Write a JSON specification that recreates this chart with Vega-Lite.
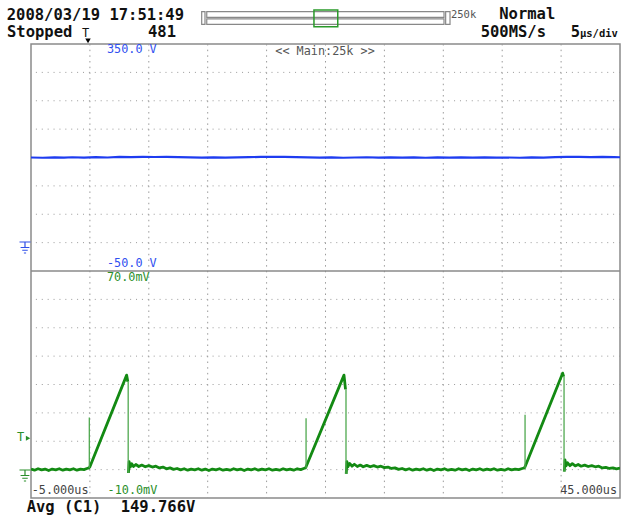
{
  "$schema": "https://vega.github.io/schema/vega-lite/v6.json",
  "width": 589,
  "height": 454,
  "autosize": {"type": "none"},
  "padding": {"left": 31, "top": 44, "right": 1, "bottom": 23},
  "background": "white",
  "config": {
    "view": {"stroke": "#8a8a8a", "strokeWidth": 1.5},
    "text": {"font": "DejaVu Sans Mono"}
  },
  "datasets": {
    "vgrid": [{"t": 0}, {"t": 5}, {"t": 10}, {"t": 15}, {"t": 20}, {"t": 25}, {"t": 30}, {"t": 35}, {"t": 40}],
    "hgrid": [{"v": -400}, {"v": -350}, {"v": -300}, {"v": -250}, {"v": -200}, {"v": -150}, {"v": -100}, {"v": 0}, {"v": 50}, {"v": 100}, {"v": 150}, {"v": 200}, {"v": 250}, {"v": 300}],
    "divider": [{"v": -50}],
    "blue": [
      {"t": -5, "v": 150}, {"t": -4, "v": 149.6}, {"t": -3, "v": 150.3}, {"t": -2.2, "v": 149.7}, {"t": -1.5, "v": 150.4},
      {"t": -0.5, "v": 149.8}, {"t": 0.5, "v": 150.5}, {"t": 1.5, "v": 150.0}, {"t": 2.5, "v": 151.0}, {"t": 3.5, "v": 150.8},
      {"t": 4.5, "v": 151.2}, {"t": 5.5, "v": 150.9}, {"t": 6.5, "v": 151.1}, {"t": 7.5, "v": 150.6}, {"t": 8.5, "v": 150.2},
      {"t": 9.5, "v": 149.7}, {"t": 10.5, "v": 150.3}, {"t": 11.5, "v": 149.8}, {"t": 12.5, "v": 150.2}, {"t": 13.5, "v": 150.6},
      {"t": 14.5, "v": 151.0}, {"t": 15.5, "v": 151.3}, {"t": 16.5, "v": 151.1}, {"t": 17.5, "v": 150.6}, {"t": 18.5, "v": 150.3},
      {"t": 19.5, "v": 149.8}, {"t": 20.5, "v": 150.1}, {"t": 21.5, "v": 149.6}, {"t": 22.5, "v": 150.0}, {"t": 23.5, "v": 150.4},
      {"t": 24.5, "v": 149.9}, {"t": 25.5, "v": 150.3}, {"t": 26.5, "v": 149.7}, {"t": 27.5, "v": 150.2}, {"t": 28.5, "v": 149.6},
      {"t": 29.5, "v": 150.1}, {"t": 30.5, "v": 149.7}, {"t": 31.5, "v": 150.2}, {"t": 32.5, "v": 149.8}, {"t": 33.5, "v": 150.3},
      {"t": 34.5, "v": 149.7}, {"t": 35.5, "v": 150.0}, {"t": 36.5, "v": 149.6}, {"t": 37.5, "v": 150.3}, {"t": 38.5, "v": 149.9},
      {"t": 39.5, "v": 150.6}, {"t": 40.5, "v": 151.0}, {"t": 41.5, "v": 151.2}, {"t": 42.5, "v": 150.8}, {"t": 43.5, "v": 151.1},
      {"t": 44.5, "v": 150.7}, {"t": 45, "v": 150.4}
    ],
    "green": [
      {"seg": 1, "t": -5.0, "mv": 0.2}, {"seg": 1, "t": -4.7, "mv": -0.2}, {"seg": 1, "t": -4.4, "mv": 0.3}, {"seg": 1, "t": -4.1, "mv": -0.1},
      {"seg": 1, "t": -3.8, "mv": 0.2}, {"seg": 1, "t": -3.5, "mv": -0.3}, {"seg": 1, "t": -3.2, "mv": 0.2}, {"seg": 1, "t": -2.9, "mv": -0.1},
      {"seg": 1, "t": -2.6, "mv": 0.3}, {"seg": 1, "t": -2.3, "mv": -0.2}, {"seg": 1, "t": -2.0, "mv": 0.2}, {"seg": 1, "t": -1.7, "mv": -0.1},
      {"seg": 1, "t": -1.4, "mv": 0.3}, {"seg": 1, "t": -1.1, "mv": -0.2}, {"seg": 1, "t": -0.8, "mv": 0.2}, {"seg": 1, "t": -0.5, "mv": 0.0},
      {"seg": 1, "t": -0.25, "mv": 0.4}, {"seg": 1, "t": -0.08, "mv": 0.6}, {"seg": 1, "t": 0.0, "mv": 1.0}, {"seg": 1, "t": 3.12, "mv": 33.3},
      {"seg": 1, "t": 3.22, "mv": 31.0},
      {"seg": 2, "t": 3.27, "mv": -1.2}, {"seg": 2, "t": 3.33, "mv": 2.8}, {"seg": 2, "t": 3.42, "mv": 0.9}, {"seg": 2, "t": 3.55, "mv": 2.1},
      {"seg": 2, "t": 3.7, "mv": 1.1}, {"seg": 2, "t": 3.9, "mv": 1.8}, {"seg": 2, "t": 4.15, "mv": 1.1}, {"seg": 2, "t": 4.4, "mv": 1.6},
      {"seg": 2, "t": 4.7, "mv": 1.0}, {"seg": 2, "t": 5.0, "mv": 1.4}, {"seg": 2, "t": 5.3, "mv": 0.9}, {"seg": 2, "t": 5.6, "mv": 1.2},
      {"seg": 2, "t": 5.9, "mv": 0.6}, {"seg": 2, "t": 6.2, "mv": 0.9}, {"seg": 2, "t": 6.5, "mv": 0.3}, {"seg": 2, "t": 6.8, "mv": 0.6},
      {"seg": 2, "t": 7.1, "mv": 0.1}, {"seg": 2, "t": 7.4, "mv": 0.4}, {"seg": 2, "t": 7.7, "mv": -0.1}, {"seg": 2, "t": 8.0, "mv": 0.3},
      {"seg": 2, "t": 8.3, "mv": -0.2}, {"seg": 2, "t": 8.6, "mv": 0.2}, {"seg": 2, "t": 8.9, "mv": -0.1}, {"seg": 2, "t": 9.2, "mv": 0.3},
      {"seg": 2, "t": 9.5, "mv": -0.2}, {"seg": 2, "t": 9.8, "mv": 0.2}, {"seg": 2, "t": 10.1, "mv": -0.3}, {"seg": 2, "t": 10.4, "mv": 0.2},
      {"seg": 2, "t": 10.7, "mv": -0.1}, {"seg": 2, "t": 11.0, "mv": 0.3}, {"seg": 2, "t": 11.3, "mv": -0.2}, {"seg": 2, "t": 11.6, "mv": 0.1},
      {"seg": 2, "t": 11.9, "mv": -0.2}, {"seg": 2, "t": 12.2, "mv": 0.3}, {"seg": 2, "t": 12.5, "mv": -0.1}, {"seg": 2, "t": 12.8, "mv": 0.2},
      {"seg": 2, "t": 13.1, "mv": -0.3}, {"seg": 2, "t": 13.4, "mv": 0.2}, {"seg": 2, "t": 13.7, "mv": -0.1}, {"seg": 2, "t": 14.0, "mv": 0.3},
      {"seg": 2, "t": 14.3, "mv": -0.2}, {"seg": 2, "t": 14.6, "mv": 0.2}, {"seg": 2, "t": 14.9, "mv": -0.1}, {"seg": 2, "t": 15.2, "mv": 0.3},
      {"seg": 2, "t": 15.5, "mv": -0.2}, {"seg": 2, "t": 15.8, "mv": 0.1}, {"seg": 2, "t": 16.1, "mv": -0.2}, {"seg": 2, "t": 16.4, "mv": 0.3},
      {"seg": 2, "t": 16.7, "mv": -0.1}, {"seg": 2, "t": 17.0, "mv": 0.2}, {"seg": 2, "t": 17.3, "mv": -0.2}, {"seg": 2, "t": 17.6, "mv": 0.3},
      {"seg": 2, "t": 17.9, "mv": 0.0}, {"seg": 2, "t": 18.15, "mv": 0.4}, {"seg": 2, "t": 18.3, "mv": 0.6}, {"seg": 2, "t": 18.35, "mv": 1.0},
      {"seg": 2, "t": 21.57, "mv": 33.3}, {"seg": 2, "t": 21.7, "mv": 28.3},
      {"seg": 3, "t": 21.76, "mv": -1.5}, {"seg": 3, "t": 21.82, "mv": 2.8}, {"seg": 3, "t": 21.9, "mv": 1.0}, {"seg": 3, "t": 22.05, "mv": 2.2},
      {"seg": 3, "t": 22.25, "mv": 1.2}, {"seg": 3, "t": 22.45, "mv": 1.9}, {"seg": 3, "t": 22.7, "mv": 1.1}, {"seg": 3, "t": 22.95, "mv": 1.6},
      {"seg": 3, "t": 23.2, "mv": 1.0}, {"seg": 3, "t": 23.5, "mv": 1.5}, {"seg": 3, "t": 23.8, "mv": 1.0}, {"seg": 3, "t": 24.1, "mv": 1.4},
      {"seg": 3, "t": 24.4, "mv": 0.9}, {"seg": 3, "t": 24.7, "mv": 1.2}, {"seg": 3, "t": 25.0, "mv": 0.7}, {"seg": 3, "t": 25.3, "mv": 0.9},
      {"seg": 3, "t": 25.6, "mv": 0.4}, {"seg": 3, "t": 25.9, "mv": 0.6}, {"seg": 3, "t": 26.2, "mv": 0.1}, {"seg": 3, "t": 26.5, "mv": 0.4},
      {"seg": 3, "t": 26.8, "mv": -0.1}, {"seg": 3, "t": 27.1, "mv": 0.3}, {"seg": 3, "t": 27.4, "mv": -0.2}, {"seg": 3, "t": 27.7, "mv": 0.2},
      {"seg": 3, "t": 28.0, "mv": -0.1}, {"seg": 3, "t": 28.3, "mv": 0.3}, {"seg": 3, "t": 28.6, "mv": -0.2}, {"seg": 3, "t": 28.9, "mv": 0.2},
      {"seg": 3, "t": 29.2, "mv": -0.3}, {"seg": 3, "t": 29.5, "mv": 0.2}, {"seg": 3, "t": 29.8, "mv": -0.1}, {"seg": 3, "t": 30.1, "mv": 0.3},
      {"seg": 3, "t": 30.4, "mv": -0.2}, {"seg": 3, "t": 30.7, "mv": 0.1}, {"seg": 3, "t": 31.0, "mv": -0.2}, {"seg": 3, "t": 31.3, "mv": 0.3},
      {"seg": 3, "t": 31.6, "mv": -0.1}, {"seg": 3, "t": 31.9, "mv": 0.2}, {"seg": 3, "t": 32.2, "mv": -0.3}, {"seg": 3, "t": 32.5, "mv": 0.2},
      {"seg": 3, "t": 32.8, "mv": -0.1}, {"seg": 3, "t": 33.1, "mv": 0.3}, {"seg": 3, "t": 33.4, "mv": -0.2}, {"seg": 3, "t": 33.7, "mv": 0.2},
      {"seg": 3, "t": 34.0, "mv": -0.1}, {"seg": 3, "t": 34.3, "mv": 0.3}, {"seg": 3, "t": 34.6, "mv": -0.2}, {"seg": 3, "t": 34.9, "mv": 0.1},
      {"seg": 3, "t": 35.2, "mv": -0.2}, {"seg": 3, "t": 35.5, "mv": 0.3}, {"seg": 3, "t": 35.8, "mv": -0.1}, {"seg": 3, "t": 36.1, "mv": 0.2},
      {"seg": 3, "t": 36.4, "mv": 0.0}, {"seg": 3, "t": 36.7, "mv": 0.4}, {"seg": 3, "t": 36.88, "mv": 0.6}, {"seg": 3, "t": 36.94, "mv": 1.0},
      {"seg": 3, "t": 40.13, "mv": 34.0}, {"seg": 3, "t": 40.22, "mv": 32.8},
      {"seg": 4, "t": 40.27, "mv": -0.7}, {"seg": 4, "t": 40.33, "mv": 3.4}, {"seg": 4, "t": 40.42, "mv": 1.3}, {"seg": 4, "t": 40.55, "mv": 2.4},
      {"seg": 4, "t": 40.75, "mv": 1.4}, {"seg": 4, "t": 40.95, "mv": 2.1}, {"seg": 4, "t": 41.2, "mv": 1.3}, {"seg": 4, "t": 41.45, "mv": 1.8},
      {"seg": 4, "t": 41.7, "mv": 1.2}, {"seg": 4, "t": 42.0, "mv": 1.6}, {"seg": 4, "t": 42.3, "mv": 1.1}, {"seg": 4, "t": 42.6, "mv": 1.4},
      {"seg": 4, "t": 42.9, "mv": 1.0}, {"seg": 4, "t": 43.2, "mv": 1.2}, {"seg": 4, "t": 43.5, "mv": 0.6}, {"seg": 4, "t": 43.8, "mv": 0.8},
      {"seg": 4, "t": 44.1, "mv": 0.4}, {"seg": 4, "t": 44.4, "mv": 0.6}, {"seg": 4, "t": 44.7, "mv": 0.3}, {"seg": 4, "t": 45.0, "mv": 0.5}
    ],
    "edges": [
      {"t": -0.05, "lo": 0.5, "hi": 18.4},
      {"t": 3.25, "lo": -1.2, "hi": 31.0},
      {"t": 18.35, "lo": 0.5, "hi": 18.1},
      {"t": 21.74, "lo": -1.5, "hi": 28.3},
      {"t": 36.94, "lo": 0.5, "hi": 19.3},
      {"t": 40.25, "lo": -0.7, "hi": 32.8}
    ],
    "header": [
      {"t": -7.06, "v": 392.3, "label": "2008/03/19 17:51:49"},
      {"t": -7.04, "v": 361.8, "label": "Stopped"},
      {"t": 4.93, "v": 361.8, "label": "481"},
      {"t": 34.75, "v": 394.0, "label": "Normal"},
      {"t": 33.17, "v": 362.9, "label": "500MS/s"},
      {"t": 40.82, "v": 362.9, "label": "5"}
    ],
    "bars": [
      {"t": 9.49, "t2": 9.77, "v": 406.9, "v2": 384.7},
      {"t": 9.92, "t2": 30.06, "v": 406.9, "v2": 397.0},
      {"t": 9.92, "t2": 30.06, "v": 394.1, "v2": 384.7},
      {"t": 30.2, "t2": 30.57, "v": 406.9, "v2": 384.7}
    ],
    "blueLabels": [
      {"t": 1.45, "v": 333.6, "label": "350.0 V"},
      {"t": 1.45, "v": -42.4, "label": "-50.0 V"}
    ],
    "greenLabels": [
      {"t": 1.45, "mv": 66.6, "label": "70.0mV"},
      {"t": 1.5, "mv": -8.6, "label": "-10.0mV"}
    ],
    "avg": [
      {"t": -5.37, "mv": -14.8, "label": "Avg (C1)"},
      {"t": 2.61, "mv": -14.8, "label": "149.766V"}
    ]
  },
  "resolve": {"scale": {"y": "independent"}},
  "layer": [
    {
      "layer": [
        {
          "data": {"name": "vgrid"},
          "mark": {"type": "rule", "color": "#9a9a9a", "strokeWidth": 1, "strokeDash": [1.5, 4.17]},
          "encoding": {
            "x": {"field": "t", "type": "quantitative", "scale": {"domain": [-5, 45], "nice": false, "zero": false}, "axis": null}
          }
        },
        {
          "data": {"name": "hgrid"},
          "mark": {"type": "rule", "color": "#9a9a9a", "strokeWidth": 1, "strokeDash": [1, 4.89]},
          "encoding": {
            "y": {"field": "v", "type": "quantitative", "scale": {"domain": [-450, 350], "nice": false, "zero": false}, "axis": null}
          }
        },
        {
          "data": {"name": "divider"},
          "mark": {"type": "rule", "color": "#8a8a8a", "strokeWidth": 1.5},
          "encoding": {
            "y": {"field": "v", "type": "quantitative", "axis": null}
          }
        },
        {
          "data": {"name": "blue"},
          "mark": {"type": "line", "color": "#1e3cf0", "strokeWidth": 2.2, "clip": true},
          "encoding": {
            "x": {"field": "t", "type": "quantitative", "axis": null},
            "y": {"field": "v", "type": "quantitative", "axis": null}
          }
        },
        {
          "data": {"name": "bars"},
          "mark": {"type": "rect", "fill": "white", "stroke": "#888888", "strokeWidth": 1.2, "clip": false},
          "encoding": {
            "x": {"field": "t", "type": "quantitative", "axis": null},
            "x2": {"field": "t2"},
            "y": {"field": "v", "type": "quantitative", "axis": null},
            "y2": {"field": "v2"}
          }
        },
        {
          "data": {"values": [{"t": 19.02, "t2": 21.04, "v": 409.9, "v2": 380.5}]},
          "mark": {"type": "rect", "fillOpacity": 0, "stroke": "#2a9a2a", "strokeWidth": 1.5, "clip": false},
          "encoding": {
            "x": {"field": "t", "type": "quantitative", "axis": null},
            "x2": {"field": "t2"},
            "y": {"field": "v", "type": "quantitative", "axis": null},
            "y2": {"field": "v2"}
          }
        },
        {
          "data": {"name": "header"},
          "mark": {"type": "text", "align": "left", "baseline": "alphabetic", "fontSize": 15.5, "fontWeight": "bold", "color": "#111111", "clip": false},
          "encoding": {
            "x": {"field": "t", "type": "quantitative", "axis": null},
            "y": {"field": "v", "type": "quantitative", "axis": null},
            "text": {"field": "label"}
          }
        },
        {
          "data": {"values": [{"t": 41.6, "v": 362.9, "label": "μs/div"}]},
          "mark": {"type": "text", "align": "left", "baseline": "alphabetic", "fontSize": 10.5, "fontWeight": "bold", "color": "#111111", "clip": false},
          "encoding": {
            "x": {"field": "t", "type": "quantitative", "axis": null},
            "y": {"field": "v", "type": "quantitative", "axis": null},
            "text": {"field": "label"}
          }
        },
        {
          "data": {"values": [{"t": 30.65, "v": 395.3, "label": "250k"}]},
          "mark": {"type": "text", "align": "left", "baseline": "alphabetic", "fontSize": 10.5, "color": "#555555", "clip": false},
          "encoding": {
            "x": {"field": "t", "type": "quantitative", "axis": null},
            "y": {"field": "v", "type": "quantitative", "axis": null},
            "text": {"field": "label"}
          }
        },
        {
          "data": {"name": "blueLabels"},
          "mark": {"type": "text", "align": "left", "baseline": "alphabetic", "fontSize": 11.8, "color": "#3050f0", "clip": false},
          "encoding": {
            "x": {"field": "t", "type": "quantitative", "axis": null},
            "y": {"field": "v", "type": "quantitative", "axis": null},
            "text": {"field": "label"}
          }
        },
        {
          "data": {"values": [{"t": 15.74, "v": 330.6, "label": "<< Main:25k >>"}]},
          "mark": {"type": "text", "align": "left", "baseline": "alphabetic", "fontSize": 11.8, "color": "#555555", "clip": false},
          "encoding": {
            "x": {"field": "t", "type": "quantitative", "axis": null},
            "y": {"field": "v", "type": "quantitative", "axis": null},
            "text": {"field": "label"}
          }
        },
        {
          "data": {"values": [{"t": -0.67, "v": 362.3, "label": "T"}]},
          "mark": {"type": "text", "align": "left", "baseline": "alphabetic", "fontSize": 12, "color": "#111111", "clip": false},
          "encoding": {
            "x": {"field": "t", "type": "quantitative", "axis": null},
            "y": {"field": "v", "type": "quantitative", "axis": null},
            "text": {"field": "label"}
          }
        },
        {
          "data": {"values": [{"t": -0.16, "v": 355.3}]},
          "mark": {"type": "point", "shape": "triangle-down", "size": 30, "filled": true, "color": "#000000", "opacity": 1, "clip": false},
          "encoding": {
            "x": {"field": "t", "type": "quantitative", "axis": null},
            "y": {"field": "v", "type": "quantitative", "axis": null}
          }
        },
        {
          "data": {"values": [{"t": -5.51, "v": -8.6}]},
          "mark": {"type": "point", "shape": "M -1 -1 L 1 -1 M 0 -1 L 0 0 M -0.8 0 L 0.8 0 M -0.5 0.5 L 0.5 0.5 M -0.2 1 L 0.2 1", "size": 121, "filled": false, "color": "#2f4fe8", "strokeWidth": 1.2, "opacity": 1, "clip": false},
          "encoding": {
            "x": {"field": "t", "type": "quantitative", "axis": null},
            "y": {"field": "v", "type": "quantitative", "axis": null}
          }
        }
      ]
    },
    {
      "layer": [
        {
          "data": {"name": "green"},
          "mark": {"type": "line", "color": "#138a13", "strokeWidth": 2.8, "strokeJoin": "round", "clip": true},
          "encoding": {
            "x": {"field": "t", "type": "quantitative", "axis": null},
            "y": {"field": "mv", "type": "quantitative", "scale": {"domain": [-10, 150], "nice": false, "zero": false}, "axis": null},
            "detail": {"field": "seg", "type": "nominal"},
            "order": {"field": "t", "type": "quantitative"}
          }
        },
        {
          "data": {"name": "edges"},
          "mark": {"type": "rule", "color": "#4fa84f", "strokeWidth": 1.3},
          "encoding": {
            "x": {"field": "t", "type": "quantitative", "axis": null},
            "y": {"field": "lo", "type": "quantitative", "axis": null},
            "y2": {"field": "hi"}
          }
        },
        {
          "data": {"name": "greenLabels"},
          "mark": {"type": "text", "align": "left", "baseline": "alphabetic", "fontSize": 11.8, "color": "#2a8f2a", "clip": false},
          "encoding": {
            "x": {"field": "t", "type": "quantitative", "axis": null},
            "y": {"field": "mv", "type": "quantitative", "axis": null},
            "text": {"field": "label"}
          }
        },
        {
          "data": {"values": [{"t": -4.94, "mv": -8.6, "label": "-5.000us"}]},
          "mark": {"type": "text", "align": "left", "baseline": "alphabetic", "fontSize": 11.8, "color": "#444444", "clip": false},
          "encoding": {
            "x": {"field": "t", "type": "quantitative", "axis": null},
            "y": {"field": "mv", "type": "quantitative", "axis": null},
            "text": {"field": "label"}
          }
        },
        {
          "data": {"values": [{"t": 44.75, "mv": -8.6, "label": "45.000us"}]},
          "mark": {"type": "text", "align": "right", "baseline": "alphabetic", "fontSize": 11.8, "color": "#444444", "clip": false},
          "encoding": {
            "x": {"field": "t", "type": "quantitative", "axis": null},
            "y": {"field": "mv", "type": "quantitative", "axis": null},
            "text": {"field": "label"}
          }
        },
        {
          "data": {"name": "avg"},
          "mark": {"type": "text", "align": "left", "baseline": "alphabetic", "fontSize": 15.5, "fontWeight": "bold", "color": "#111111", "clip": false},
          "encoding": {
            "x": {"field": "t", "type": "quantitative", "axis": null},
            "y": {"field": "mv", "type": "quantitative", "axis": null},
            "text": {"field": "label"}
          }
        },
        {
          "data": {"values": [{"t": -6.19, "mv": 10.1, "label": "T"}]},
          "mark": {"type": "text", "align": "left", "baseline": "alphabetic", "fontSize": 12, "color": "#2a8f2a", "clip": false},
          "encoding": {
            "x": {"field": "t", "type": "quantitative", "axis": null},
            "y": {"field": "mv", "type": "quantitative", "axis": null},
            "text": {"field": "label"}
          }
        },
        {
          "data": {"values": [{"t": -5.25, "mv": 11.1}]},
          "mark": {"type": "point", "shape": "triangle-right", "size": 25, "filled": true, "color": "#2a8f2a", "opacity": 1, "clip": false},
          "encoding": {
            "x": {"field": "t", "type": "quantitative", "axis": null},
            "y": {"field": "mv", "type": "quantitative", "axis": null}
          }
        },
        {
          "data": {"values": [{"t": -5.51, "mv": -2.07}]},
          "mark": {"type": "point", "shape": "M -1 -1 L 1 -1 M 0 -1 L 0 0 M -0.8 0 L 0.8 0 M -0.5 0.5 L 0.5 0.5 M -0.2 1 L 0.2 1", "size": 121, "filled": false, "color": "#2a8f2a", "strokeWidth": 1.2, "opacity": 1, "clip": false},
          "encoding": {
            "x": {"field": "t", "type": "quantitative", "axis": null},
            "y": {"field": "mv", "type": "quantitative", "axis": null}
          }
        }
      ]
    }
  ]
}
